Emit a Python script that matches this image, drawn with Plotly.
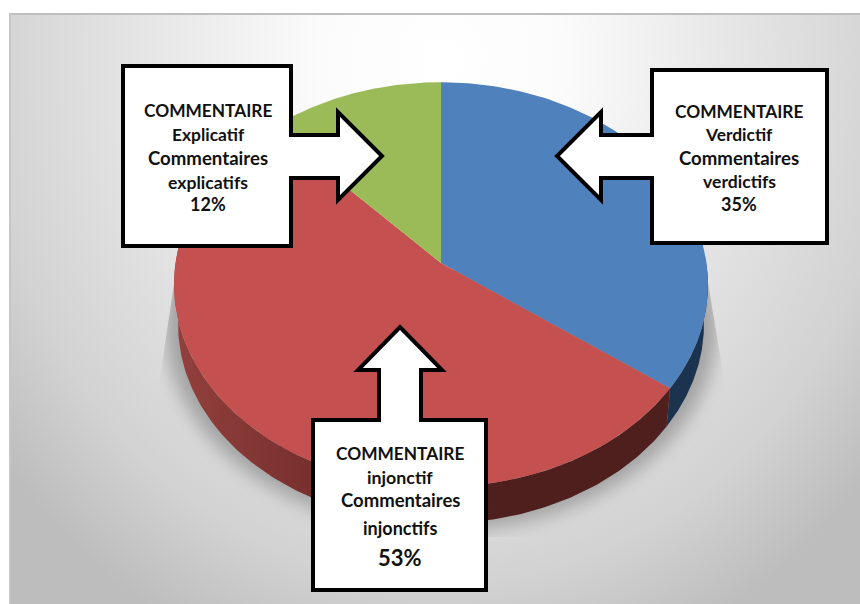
import base64
import numpy as np
import plotly.graph_objects as go

# Share of each comment type, clockwise from twelve o'clock
categories = ["Verdictif", "injonctif", "Explicatif"]
shares = [35, 53, 12]
top_colors = ["#4F81BD", "#C4514F", "#9BBB59"]

# Projection of the tilted disc onto the page, in pixels
CX, CY = 441.0, 263.0
RX, RY = 265.5, 200.0
TILT = 0.106
DEPTH = 40.0
BASE_SCALE = 0.985


def rim(frac):
    """Project fractions of a full turn onto the disc's upper rim."""
    a = 2 * np.pi * np.asarray(frac, dtype=float)
    u, v = np.sin(a), np.cos(a)
    w = 1 + TILT * v
    return RX * u / w, -RY * v / w


def top_face(start, stop):
    dx, dy = rim(np.linspace(start, stop, 160))
    xs = np.concatenate([[CX], CX + dx, [CX]])
    ys = np.concatenate([[CY], CY + dy, [CY]])
    return xs, ys


def side_face(start, stop):
    dx, dy = rim(np.linspace(start, stop, 160))
    xs = np.concatenate([CX + dx, (CX + BASE_SCALE * dx)[::-1]])
    ys = np.concatenate([CY + dy, (CY + BASE_SCALE * dy + DEPTH)[::-1]])
    return xs, ys


BACKGROUND_SVG = """<svg xmlns="http://www.w3.org/2000/svg" width="860" height="604" viewBox="0 0 860 604">
<defs>
<radialGradient id="bg" gradientUnits="userSpaceOnUse" cx="0" cy="0" r="1"
 gradientTransform="translate(441 60) scale(560 640)">
<stop offset="0" stop-color="#ffffff"/>
<stop offset="0.22" stop-color="#fbfbfb"/>
<stop offset="0.55" stop-color="#e4e4e4"/>
<stop offset="0.82" stop-color="#d2d2d2"/>
<stop offset="1" stop-color="#bdbdbd"/>
</radialGradient>
<filter id="soft" x="-20%" y="-20%" width="140%" height="140%"><feGaussianBlur stdDeviation="9"/></filter>
<clipPath id="cut"><polygon points="176,270 157,398 157,537 727,537 727,398 706,270"/></clipPath>
</defs>
<rect x="9" y="13" width="851" height="591" fill="url(#bg)"/>
<rect x="9" y="13" width="851" height="2" fill="#bfbfbf"/>
<rect x="9" y="13" width="2" height="591" fill="#c6c6c6"/>
<g clip-path="url(#cut)"><ellipse cx="441" cy="326" rx="276" ry="205" fill="#a2a2a2" filter="url(#soft)"/></g>
</svg>"""
background = "data:image/svg+xml;base64," + base64.b64encode(BACKGROUND_SVG.encode()).decode()

fractions = np.cumsum([0] + shares) / sum(shares)
blue_range = (fractions[0], fractions[1])
red_range = (fractions[1], fractions[2])

fig = go.Figure()

# Rim of the disc: only the front part of the blue and red slices shows
xs, ys = side_face(0.25, blue_range[1])
fig.add_trace(go.Scatter(x=xs, y=ys, mode="lines", line=dict(width=0), fill="toself",
                         fillcolor="#1C3350", hoverinfo="skip"))
xs, ys = side_face(red_range[0], 0.77)
fig.add_trace(go.Scatter(
    x=xs, y=ys, mode="lines", line=dict(width=0), fill="toself", hoverinfo="skip",
    fillgradient=dict(
        type="horizontal", start=175, stop=665,
        colorscale=[[0, "#93403D"], [0.35, "#702C2A"], [0.65, "#4E1F1D"], [1, "#4E1F1D"]],
    ),
))

# Top faces of the three slices
for name, start, stop, color in zip(categories, fractions[:-1], fractions[1:], top_colors):
    xs, ys = top_face(start, stop)
    fig.add_trace(go.Scatter(x=xs, y=ys, name=name, mode="lines", line=dict(width=0),
                             fill="toself", fillcolor=color))

# Block-arrow callouts pointing into each slice
callouts = [
    "M123,66 L291,66 L291,135 L338,135 L338,112 L382,156 L338,200 L338,178 L291,178 L291,246 L123,246 Z",
    "M652,70 L827,70 L827,243 L652,243 L652,178 L601,178 L601,200 L557,156 L601,112 L601,135 L652,135 Z",
    "M313,420 L379,420 L379,370 L358,370 L400,327 L442,370 L421,370 L421,420 L486,420 L486,590 L313,590 Z",
]
shapes = [dict(type="path", path=p, xref="x", yref="y", fillcolor="white", layer="above",
               line=dict(color="black", width=4)) for p in callouts]

labels = [
    (208, 110, "COMMENTAIRE", 17.3), (208, 134, "Explicatif", 17.4), (208, 158, "Commentaires", 18.6),
    (208, 182, "explicatifs", 17.6), (208, 204, "12%", 18),
    (739, 111, "COMMENTAIRE", 17.3), (739, 134, "Verdictif", 17.4), (739, 158, "Commentaires", 18.6),
    (739, 181, "verdictifs", 17.6), (739, 204, "35%", 18),
    (400, 453, "COMMENTAIRE", 17.3), (400, 477, "injonctif", 17.8), (400, 500, "Commentaires", 18.5),
    (400, 528, "injonctifs", 18), (400, 557, "53%", 22),
]
annotations = [dict(x=x, y=y, text=t, xref="x", yref="y", showarrow=False,
                    xanchor="center", yanchor="middle",
                    font=dict(family="Lato", size=s, color="#111111", weight="bold"))
               for x, y, t, s in labels]

fig.update_layout(
    width=860, height=604, margin=dict(l=0, r=0, t=0, b=0),
    paper_bgcolor="white", plot_bgcolor="rgba(0,0,0,0)", showlegend=False,
    xaxis=dict(range=[0, 860], visible=False, fixedrange=True),
    yaxis=dict(range=[604, 0], visible=False, fixedrange=True),
    shapes=shapes, annotations=annotations,
    images=[dict(source=background, xref="paper", yref="paper", x=0, y=1, sizex=1, sizey=1,
                 xanchor="left", yanchor="top", sizing="stretch", layer="below")],
)

fig.write_html("out.html", config=dict(displayModeBar=False))
